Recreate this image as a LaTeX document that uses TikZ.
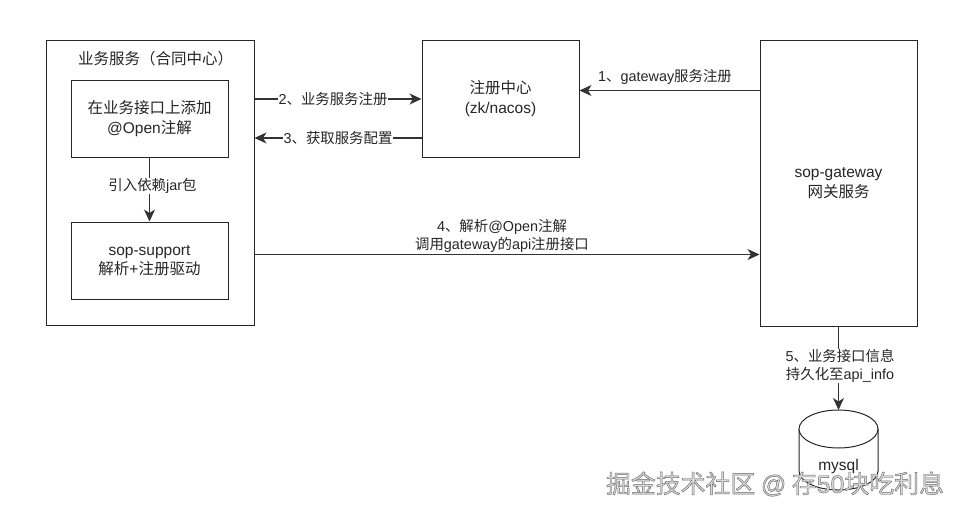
\documentclass[tikz,border=0pt]{standalone}
\usepackage{fontspec}
\setmainfont{Noto Sans CJK SC}
\newfontfamily\lat{Liberation Sans}
\usetikzlibrary{arrows.meta}
\newcommand{\fsz}{\fontsize{15.5}{19.5}\selectfont}
\newcommand{\fsl}{\fontsize{14.4}{18}\selectfont}
\newcommand{\lt}[1]{{\lat #1}}
\tikzset{
  box/.style={draw=black!85,line width=1pt,minimum width=157pt,minimum height=77pt,inner sep=0pt,align=center,font=\fsz,text=black!85},
  conn/.style={draw=black!80,line width=1.2pt,-{Stealth[length=12pt,width=11pt,inset=3.5pt]}},
  lab/.style={fill=white,inner sep=0.5pt,align=center,font=\fsl,text=black!85},
}
\begin{document}
\begin{tikzpicture}[x=1pt,y=-1pt]
\useasboundingbox (0,0) rectangle (961,514);
\fill[white] (0,0) rectangle (961,514);
\node[box,minimum width=208pt,minimum height=285pt] (svc) at (150,182.5) {};
\node[font=\fsz,inner sep=0pt,text=black!85] (svct) at (155.5,58.5) {业务服务（合同中心）};
\node[box] (a) at (149.5,118.5) {在业务接口上添加\\\lt{@Open}注解};
\node[box] (b) at (149.5,260.5) {\lt{sop-support}\\解析\lt{+}注册驱动};
\node[box,minimum height=117pt] (reg) at (500.5,98.5) {注册中心\\\lt{(zk/nacos)}};
\node[box,minimum height=286pt] (gw) at (838.5,183) {\lt{sop-gateway}\\网关服务};
\coordinate (cyl) at (838.5,410);
\draw[draw=black!85,line width=1pt,fill=white] (799,429) -- (799,471) .. controls (799,481.5) and (816.7,490) .. (838.5,490) .. controls (860.3,490) and (878,481.5) .. (878,471) -- (878,429) -- cycle;
\draw[draw=black!85,line width=1pt,fill=white] (838.5,429) ellipse[x radius=39.5,y radius=19];
\node[font=\fsz,inner sep=0pt,text=black!85] (db) at (838.5,466) {\lt{mysql}};
\coordinate (s2) at (svc.east |- 0,99);
\coordinate (r2) at (reg.west |- 0,99);
\coordinate (s3) at (svc.east |- 0,138);
\coordinate (r3) at (reg.west |- 0,138);
\coordinate (s4) at (svc.east |- 0,254.5);
\coordinate (g4) at (gw.west |- 0,254.5);
\coordinate (g1) at (gw.west |- 0,90.5);
\coordinate (r1) at (reg.east |- 0,90.5);
\draw[conn] (s2) -- node[lab,midway,xshift=-5pt] {\lt{2}、业务服务注册} (r2);
\draw[conn] (r3) -- node[lab,midway] {\lt{3}、获取服务配置} (s3);
\draw[conn] (g1) -- node[lab,fill=none,midway,xshift=-4.5pt,yshift=13.5pt] {\lt{1}、\lt{gateway}服务注册} (r1);
\draw[conn] (s4) -- (g4);
\node[lab,fill=none] (l4) at (502,236) {\lt{4}、解析\lt{@Open}注解\\调用\lt{gateway}的\lt{api}注册接口};
\draw[conn] (a) -- node[lab,midway,xshift=3pt,yshift=3.5pt] {引入依赖\lt{jar}包} (b);
\draw[conn] (gw.south) -- node[lab,pos=0.5,xshift=1.5pt,yshift=2pt] {\lt{5}、业务接口信息\\持久化至\lt{api\_info}} (cyl);
\node[font=\fontsize{24.9}{26}\selectfont,text=black!15,inner sep=0pt] (wm) at (775,484) {\special{pdf:code 2 Tr 0.45 w 0.42 G}掘金技术社区 \lt{@} 存\lt{50}块吃利息\special{pdf:code 0 Tr}};
\end{tikzpicture}
\end{document}
